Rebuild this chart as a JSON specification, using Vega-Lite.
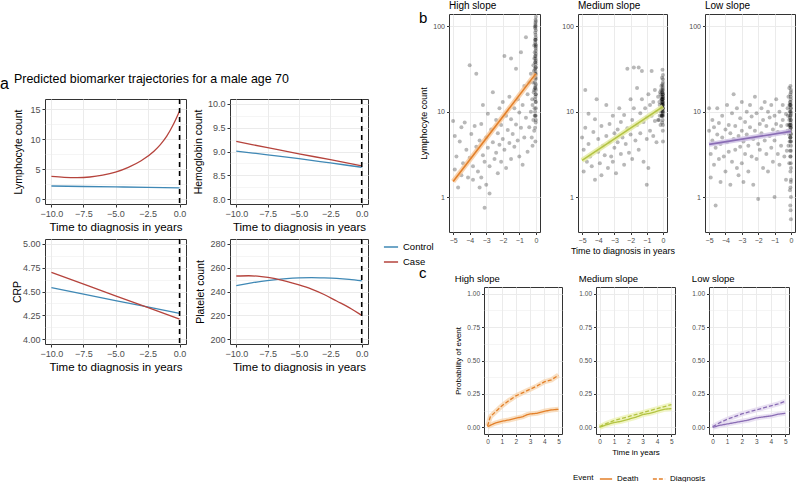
{
  "$schema": "https://vega.github.io/schema/vega-lite/v6.json",
  "padding": {"left": 0, "top": 0, "right": 0, "bottom": 0},
  "background": "white",
  "config": {
    "font": "Liberation Sans",
    "view": {"stroke": "#333333", "strokeWidth": 1},
    "axis": {"domain": false, "grid": true, "gridColor": "#ebebeb", "tickColor": "#333333", "tickSize": 3, "labelColor": "#4d4d4d", "titleColor": "#000000", "titleFontWeight": "normal", "labelPadding": 2, "labelFlush": false, "labelOverlap": false, "titlePadding": 4, "labelFont": "Liberation Sans", "titleFont": "Liberation Sans"},
    "title": {"fontWeight": "normal", "color": "#000000", "font": "Liberation Sans"},
    "legend": {"labelColor": "#000000", "titleFontWeight": "normal", "labelFont": "Liberation Sans", "titleFont": "Liberation Sans"}
  },
  "datasets": {
    "a": [
      {"m":"L","g":"Control","t":-10,"v":2.2},{"m":"L","g":"Control","t":-7.5,"v":2.12},{"m":"L","g":"Control","t":-5,"v":2.05},{"m":"L","g":"Control","t":-2.5,"v":1.97},{"m":"L","g":"Control","t":0,"v":1.9},
      {"m":"L","g":"Case","t":-10,"v":3.8},{"m":"L","g":"Case","t":-9,"v":3.65},{"m":"L","g":"Case","t":-8,"v":3.6},{"m":"L","g":"Case","t":-7,"v":3.7},{"m":"L","g":"Case","t":-6,"v":4.0},{"m":"L","g":"Case","t":-5,"v":4.5},{"m":"L","g":"Case","t":-4,"v":5.3},{"m":"L","g":"Case","t":-3,"v":6.4},{"m":"L","g":"Case","t":-2,"v":8.0},{"m":"L","g":"Case","t":-1.5,"v":9.1},{"m":"L","g":"Case","t":-1,"v":10.5},{"m":"L","g":"Case","t":-0.5,"v":12.4},{"m":"L","g":"Case","t":0,"v":14.7},
      {"m":"H","g":"Control","t":-10,"v":9.01},{"m":"H","g":"Control","t":-7.5,"v":8.93},{"m":"H","g":"Control","t":-5,"v":8.85},{"m":"H","g":"Control","t":-2.5,"v":8.76},{"m":"H","g":"Control","t":0,"v":8.67},
      {"m":"H","g":"Case","t":-10,"v":9.21},{"m":"H","g":"Case","t":-7.5,"v":9.08},{"m":"H","g":"Case","t":-5,"v":8.95},{"m":"H","g":"Case","t":-2.5,"v":8.83},{"m":"H","g":"Case","t":0,"v":8.70},
      {"m":"C","g":"Control","t":-10,"v":4.54},{"m":"C","g":"Control","t":-5,"v":4.405},{"m":"C","g":"Control","t":0,"v":4.27},
      {"m":"C","g":"Case","t":-10,"v":4.70},{"m":"C","g":"Case","t":-5,"v":4.455},{"m":"C","g":"Case","t":0,"v":4.21},
      {"m":"P","g":"Control","t":-10,"v":245},{"m":"P","g":"Control","t":-9,"v":246.8},{"m":"P","g":"Control","t":-8,"v":248.5},{"m":"P","g":"Control","t":-7,"v":249.8},{"m":"P","g":"Control","t":-6,"v":250.8},{"m":"P","g":"Control","t":-5,"v":251.4},{"m":"P","g":"Control","t":-4,"v":251.6},{"m":"P","g":"Control","t":-3,"v":251.4},{"m":"P","g":"Control","t":-2,"v":251},{"m":"P","g":"Control","t":-1,"v":250.2},{"m":"P","g":"Control","t":0,"v":249},
      {"m":"P","g":"Case","t":-10,"v":253},{"m":"P","g":"Case","t":-9,"v":253.2},{"m":"P","g":"Case","t":-8,"v":252.5},{"m":"P","g":"Case","t":-7,"v":251},{"m":"P","g":"Case","t":-6,"v":248.5},{"m":"P","g":"Case","t":-5,"v":245.5},{"m":"P","g":"Case","t":-4,"v":242},{"m":"P","g":"Case","t":-3,"v":237.5},{"m":"P","g":"Case","t":-2,"v":232},{"m":"P","g":"Case","t":-1,"v":226.5},{"m":"P","g":"Case","t":0,"v":220}
    ],
    "pts": [
      {"p":"H","t":-5.0,"v":7.8},{"p":"H","t":-4.9,"v":5.2},{"p":"H","t":-4.8,"v":3.0},{"p":"H","t":-4.9,"v":2.1},{"p":"H","t":-4.7,"v":1.3},{"p":"H","t":-4.6,"v":4.5},{"p":"H","t":-4.5,"v":6.6},{"p":"H","t":-4.5,"v":1.8},{"p":"H","t":-4.4,"v":2.5},{"p":"H","t":-4.3,"v":7.5},{"p":"H","t":-4.2,"v":3.6},{"p":"H","t":-4.1,"v":1.7},{"p":"H","t":-4.0,"v":2.9},{"p":"H","t":-4.0,"v":35},{"p":"H","t":-3.9,"v":5.5},{"p":"H","t":-3.8,"v":2.3},{"p":"H","t":-3.8,"v":1.6},{"p":"H","t":-3.7,"v":6.8},{"p":"H","t":-3.6,"v":3.9},{"p":"H","t":-3.6,"v":28},{"p":"H","t":-3.5,"v":2.0},{"p":"H","t":-3.4,"v":4.6},{"p":"H","t":-3.4,"v":1.3},{"p":"H","t":-3.3,"v":7.2},{"p":"H","t":-3.3,"v":1.7},{"p":"H","t":-3.2,"v":12},{"p":"H","t":-3.2,"v":3.1},{"p":"H","t":-3.1,"v":2.6},{"p":"H","t":-3.1,"v":0.75},{"p":"H","t":-3.0,"v":5.0},{"p":"H","t":-3.0,"v":1.4},{"p":"H","t":-2.9,"v":9.5},{"p":"H","t":-2.9,"v":3.8},{"p":"H","t":-2.8,"v":2.3},{"p":"H","t":-2.8,"v":1.1},{"p":"H","t":-2.7,"v":6.2},{"p":"H","t":-2.6,"v":17},{"p":"H","t":-2.6,"v":4.4},{"p":"H","t":-2.5,"v":2.8},{"p":"H","t":-2.4,"v":8.0},{"p":"H","t":-2.4,"v":3.3},{"p":"H","t":-2.3,"v":5.6},{"p":"H","t":-2.3,"v":1.9},{"p":"H","t":-2.2,"v":11},{"p":"H","t":-2.2,"v":4.1},{"p":"H","t":-2.1,"v":7.0},{"p":"H","t":-2.1,"v":2.6},{"p":"H","t":-2.0,"v":13},{"p":"H","t":-2.0,"v":4.8},{"p":"H","t":-1.9,"v":45},{"p":"H","t":-1.9,"v":3.6},{"p":"H","t":-1.8,"v":9.0},{"p":"H","t":-1.8,"v":2.2},{"p":"H","t":-1.7,"v":6.1},{"p":"H","t":-1.6,"v":15},{"p":"H","t":-1.6,"v":4.3},{"p":"H","t":-1.5,"v":42},{"p":"H","t":-1.5,"v":8.2},{"p":"H","t":-1.5,"v":2.8},{"p":"H","t":-1.4,"v":5.5},{"p":"H","t":-1.3,"v":11},{"p":"H","t":-1.3,"v":3.9},{"p":"H","t":-1.2,"v":32},{"p":"H","t":-1.2,"v":7.1},{"p":"H","t":-1.1,"v":14},{"p":"H","t":-1.1,"v":4.6},{"p":"H","t":-1.0,"v":9.8},{"p":"H","t":-1.0,"v":3.0},{"p":"H","t":-0.9,"v":50},{"p":"H","t":-0.9,"v":6.5},{"p":"H","t":-0.8,"v":12},{"p":"H","t":-0.8,"v":2.4},{"p":"H","t":-0.7,"v":20},{"p":"H","t":-0.7,"v":5.0},{"p":"H","t":-0.6,"v":8.5},{"p":"H","t":-0.6,"v":75},{"p":"H","t":-0.5,"v":16},{"p":"H","t":-0.5,"v":3.4},{"p":"H","t":-0.4,"v":22},{"p":"H","t":-0.4,"v":6.6},{"p":"H","t":-0.3,"v":10},{"p":"H","t":-0.3,"v":28},
      {"p":"H","t":-0.25,"v":5},{"p":"H","t":-0.22,"v":14},{"p":"H","t":-0.2,"v":4},{"p":"H","t":-0.2,"v":12},{"p":"H","t":-0.18,"v":22},{"p":"H","t":-0.15,"v":8},{"p":"H","t":-0.15,"v":35},{"p":"H","t":-0.13,"v":17},{"p":"H","t":-0.12,"v":30},{"p":"H","t":-0.1,"v":60},{"p":"H","t":-0.1,"v":18},{"p":"H","t":-0.1,"v":6},{"p":"H","t":-0.09,"v":42},{"p":"H","t":-0.08,"v":25},{"p":"H","t":-0.08,"v":11},{"p":"H","t":-0.07,"v":50},{"p":"H","t":-0.07,"v":9},{"p":"H","t":-0.06,"v":100},{"p":"H","t":-0.06,"v":22},{"p":"H","t":-0.05,"v":14},{"p":"H","t":-0.05,"v":45},{"p":"H","t":-0.05,"v":70},{"p":"H","t":-0.04,"v":9},{"p":"H","t":-0.04,"v":65},{"p":"H","t":-0.04,"v":28},{"p":"H","t":-0.03,"v":70},{"p":"H","t":-0.03,"v":20},{"p":"H","t":-0.03,"v":110},{"p":"H","t":-0.03,"v":38},{"p":"H","t":-0.02,"v":30},{"p":"H","t":-0.02,"v":120},{"p":"H","t":-0.02,"v":80},{"p":"H","t":-0.02,"v":13},{"p":"H","t":-0.01,"v":55},{"p":"H","t":-0.01,"v":16},{"p":"H","t":-0.01,"v":7.5},{"p":"H","t":-0.01,"v":33},{"p":"H","t":0,"v":40},{"p":"H","t":0,"v":90},{"p":"H","t":0,"v":11},{"p":"H","t":0,"v":25},{"p":"H","t":0,"v":18},{"p":"H","t":0,"v":60},{"p":"H","t":0,"v":130},{"p":"H","t":0,"v":8},{"p":"H","t":0,"v":48},{"p":"H","t":-0.01,"v":75},{"p":"H","t":-0.02,"v":19},{"p":"H","t":-0.04,"v":95},{"p":"H","t":-0.06,"v":32},
      {"p":"H","t":-0.05,"v":10},{"p":"H","t":-0.03,"v":15},{"p":"H","t":-0.02,"v":24},{"p":"H","t":-0.01,"v":36},{"p":"H","t":0,"v":52},{"p":"H","t":0,"v":70},{"p":"H","t":-0.04,"v":85},{"p":"H","t":-0.02,"v":105},{"p":"H","t":-0.01,"v":9},{"p":"H","t":0,"v":13},{"p":"H","t":-0.06,"v":19},{"p":"H","t":-0.03,"v":27},{"p":"H","t":-0.02,"v":42},{"p":"H","t":-0.01,"v":58},{"p":"H","t":0,"v":33},{"p":"H","t":0,"v":21},{"p":"H","t":-0.05,"v":6.5},{"p":"H","t":-0.03,"v":4.5},{"p":"H","t":-0.01,"v":100},{"p":"H","t":0,"v":115},{"p":"H","t":-0.02,"v":62},{"p":"H","t":-0.04,"v":38},{"p":"H","t":-0.01,"v":45},{"p":"H","t":0,"v":28},{"p":"H","t":0,"v":16},
      {"p":"M","t":-5.0,"v":5.0},{"p":"M","t":-4.9,"v":2.0},{"p":"M","t":-4.9,"v":3.6},{"p":"M","t":-4.8,"v":18},{"p":"M","t":-4.8,"v":6.5},{"p":"M","t":-4.7,"v":2.6},{"p":"M","t":-4.6,"v":4.2},{"p":"M","t":-4.6,"v":9.5},{"p":"M","t":-4.5,"v":3.0},{"p":"M","t":-4.4,"v":2.3},{"p":"M","t":-4.3,"v":5.8},{"p":"M","t":-4.2,"v":1.6},{"p":"M","t":-4.2,"v":8.2},{"p":"M","t":-4.1,"v":14},{"p":"M","t":-4.0,"v":3.4},{"p":"M","t":-4.0,"v":4.8},{"p":"M","t":-3.9,"v":2.5},{"p":"M","t":-3.8,"v":6.8},{"p":"M","t":-3.8,"v":1.8},{"p":"M","t":-3.7,"v":4.0},{"p":"M","t":-3.6,"v":3.1},{"p":"M","t":-3.5,"v":12},{"p":"M","t":-3.5,"v":5.2},{"p":"M","t":-3.4,"v":2.2},{"p":"M","t":-3.3,"v":7.2},{"p":"M","t":-3.3,"v":4.4},{"p":"M","t":-3.2,"v":3.0},{"p":"M","t":-3.1,"v":9.0},{"p":"M","t":-3.1,"v":2.6},{"p":"M","t":-3.0,"v":5.6},{"p":"M","t":-3.0,"v":3.8},{"p":"M","t":-2.9,"v":1.9},{"p":"M","t":-2.8,"v":6.2},{"p":"M","t":-2.8,"v":4.4},{"p":"M","t":-2.7,"v":11},{"p":"M","t":-2.6,"v":3.2},{"p":"M","t":-2.6,"v":7.6},{"p":"M","t":-2.5,"v":5.0},{"p":"M","t":-2.4,"v":2.4},{"p":"M","t":-2.4,"v":9.2},{"p":"M","t":-2.3,"v":4.2},{"p":"M","t":-2.2,"v":32},{"p":"M","t":-2.2,"v":6.4},{"p":"M","t":-2.1,"v":3.3},{"p":"M","t":-2.0,"v":14},{"p":"M","t":-2.0,"v":5.4},{"p":"M","t":-1.9,"v":8.0},{"p":"M","t":-1.9,"v":2.8},{"p":"M","t":-1.8,"v":33},{"p":"M","t":-1.8,"v":11},{"p":"M","t":-1.7,"v":4.6},{"p":"M","t":-1.6,"v":19},{"p":"M","t":-1.6,"v":7.0},{"p":"M","t":-1.5,"v":33},{"p":"M","t":-1.5,"v":3.6},{"p":"M","t":-1.4,"v":9.6},{"p":"M","t":-1.4,"v":5.6},{"p":"M","t":-1.3,"v":30},{"p":"M","t":-1.3,"v":14},{"p":"M","t":-1.2,"v":7.6},{"p":"M","t":-1.2,"v":2.6},{"p":"M","t":-1.1,"v":11},{"p":"M","t":-1.0,"v":1.4},{"p":"M","t":-1.0,"v":4.8},{"p":"M","t":-1.0,"v":8.6},{"p":"M","t":-0.9,"v":16},{"p":"M","t":-0.9,"v":2.2},{"p":"M","t":-0.8,"v":6.0},{"p":"M","t":-0.8,"v":12},{"p":"M","t":-0.7,"v":30},{"p":"M","t":-0.7,"v":9.0},{"p":"M","t":-0.6,"v":5.2},{"p":"M","t":-0.6,"v":13},{"p":"M","t":-0.5,"v":18},{"p":"M","t":-0.5,"v":7.8},{"p":"M","t":-0.4,"v":10},{"p":"M","t":-0.4,"v":4.4},{"p":"M","t":-0.3,"v":15},{"p":"M","t":-0.3,"v":8.0},
      {"p":"M","t":-0.25,"v":8},{"p":"M","t":-0.22,"v":13},{"p":"M","t":-0.2,"v":9},{"p":"M","t":-0.2,"v":12},{"p":"M","t":-0.18,"v":17},{"p":"M","t":-0.15,"v":16},{"p":"M","t":-0.15,"v":7},{"p":"M","t":-0.13,"v":10},{"p":"M","t":-0.12,"v":18},{"p":"M","t":-0.1,"v":11},{"p":"M","t":-0.1,"v":20},{"p":"M","t":-0.1,"v":14},{"p":"M","t":-0.09,"v":9},{"p":"M","t":-0.08,"v":9},{"p":"M","t":-0.08,"v":15},{"p":"M","t":-0.07,"v":12},{"p":"M","t":-0.06,"v":25},{"p":"M","t":-0.06,"v":9},{"p":"M","t":-0.05,"v":13},{"p":"M","t":-0.05,"v":17},{"p":"M","t":-0.05,"v":11},{"p":"M","t":-0.04,"v":10},{"p":"M","t":-0.04,"v":14},{"p":"M","t":-0.03,"v":12},{"p":"M","t":-0.03,"v":31},{"p":"M","t":-0.03,"v":16},{"p":"M","t":-0.02,"v":15},{"p":"M","t":-0.02,"v":8},{"p":"M","t":-0.02,"v":11},{"p":"M","t":-0.01,"v":11},{"p":"M","t":-0.01,"v":19},{"p":"M","t":-0.01,"v":14},{"p":"M","t":-0.01,"v":9.5},{"p":"M","t":0,"v":13},{"p":"M","t":0,"v":10},{"p":"M","t":0,"v":22},{"p":"M","t":0,"v":4.5},{"p":"M","t":0,"v":12},{"p":"M","t":0,"v":16},{"p":"M","t":0,"v":27},{"p":"M","t":0,"v":7},{"p":"M","t":-0.02,"v":12.5},{"p":"M","t":-0.03,"v":10.5},{"p":"M","t":-0.06,"v":14},{"p":"M","t":-0.04,"v":18},
      {"p":"M","t":-0.05,"v":12},{"p":"M","t":-0.03,"v":14},{"p":"M","t":-0.02,"v":17},{"p":"M","t":-0.01,"v":20},{"p":"M","t":0,"v":9},{"p":"M","t":0,"v":11},{"p":"M","t":-0.04,"v":13},{"p":"M","t":-0.02,"v":10},{"p":"M","t":-0.01,"v":12},{"p":"M","t":0,"v":15},{"p":"M","t":-0.06,"v":11},{"p":"M","t":-0.03,"v":9},{"p":"M","t":-0.02,"v":13},{"p":"M","t":-0.01,"v":16},{"p":"M","t":0,"v":18},{"p":"M","t":0,"v":24},{"p":"M","t":-0.05,"v":7.5},{"p":"M","t":-0.03,"v":21},{"p":"M","t":-0.01,"v":6},{"p":"M","t":0,"v":14.5},
      {"p":"L","t":-5.0,"v":11},{"p":"L","t":-5.0,"v":6.0},{"p":"L","t":-4.9,"v":1.7},{"p":"L","t":-4.9,"v":3.2},{"p":"L","t":-4.8,"v":8.0},{"p":"L","t":-4.8,"v":4.6},{"p":"L","t":-4.7,"v":2.4},{"p":"L","t":-4.7,"v":6.6},{"p":"L","t":-4.6,"v":0.8},{"p":"L","t":-4.6,"v":3.8},{"p":"L","t":-4.5,"v":5.4},{"p":"L","t":-4.5,"v":11},{"p":"L","t":-4.4,"v":2.8},{"p":"L","t":-4.4,"v":7.4},{"p":"L","t":-4.3,"v":4.2},{"p":"L","t":-4.3,"v":1.5},{"p":"L","t":-4.2,"v":9.0},{"p":"L","t":-4.2,"v":5.0},{"p":"L","t":-4.1,"v":3.0},{"p":"L","t":-4.0,"v":6.2},{"p":"L","t":-4.0,"v":2.0},{"p":"L","t":-3.9,"v":12},{"p":"L","t":-3.9,"v":4.4},{"p":"L","t":-3.8,"v":7.0},{"p":"L","t":-3.8,"v":3.4},{"p":"L","t":-3.7,"v":1.4},{"p":"L","t":-3.7,"v":5.6},{"p":"L","t":-3.6,"v":9.6},{"p":"L","t":-3.6,"v":2.6},{"p":"L","t":-3.5,"v":16},{"p":"L","t":-3.5,"v":4.8},{"p":"L","t":-3.4,"v":3.6},{"p":"L","t":-3.4,"v":6.8},{"p":"L","t":-3.3,"v":2.2},{"p":"L","t":-3.3,"v":11},{"p":"L","t":-3.2,"v":5.2},{"p":"L","t":-3.2,"v":1.8},{"p":"L","t":-3.1,"v":8.4},{"p":"L","t":-3.1,"v":3.9},{"p":"L","t":-3.0,"v":13},{"p":"L","t":-3.0,"v":6.0},{"p":"L","t":-3.0,"v":2.5},{"p":"L","t":-2.9,"v":4.5},{"p":"L","t":-2.9,"v":1.5},{"p":"L","t":-2.8,"v":7.6},{"p":"L","t":-2.8,"v":3.2},{"p":"L","t":-2.7,"v":10},{"p":"L","t":-2.7,"v":5.4},{"p":"L","t":-2.6,"v":2.0},{"p":"L","t":-2.6,"v":4.0},{"p":"L","t":-2.5,"v":12},{"p":"L","t":-2.5,"v":6.6},{"p":"L","t":-2.4,"v":3.0},{"p":"L","t":-2.4,"v":8.8},{"p":"L","t":-2.3,"v":4.8},{"p":"L","t":-2.3,"v":1.4},{"p":"L","t":-2.2,"v":15},{"p":"L","t":-2.2,"v":6.0},{"p":"L","t":-2.1,"v":2.8},{"p":"L","t":-2.1,"v":9.6},{"p":"L","t":-2.0,"v":4.2},{"p":"L","t":-2.0,"v":0.95},{"p":"L","t":-1.9,"v":7.2},{"p":"L","t":-1.9,"v":3.6},{"p":"L","t":-1.8,"v":11},{"p":"L","t":-1.8,"v":5.6},{"p":"L","t":-1.7,"v":2.2},{"p":"L","t":-1.7,"v":8.0},{"p":"L","t":-1.6,"v":4.6},{"p":"L","t":-1.6,"v":13},{"p":"L","t":-1.5,"v":3.2},{"p":"L","t":-1.5,"v":6.8},{"p":"L","t":-1.4,"v":10},{"p":"L","t":-1.4,"v":2.0},{"p":"L","t":-1.3,"v":5.2},{"p":"L","t":-1.3,"v":8.6},{"p":"L","t":-1.2,"v":3.8},{"p":"L","t":-1.2,"v":12},{"p":"L","t":-1.1,"v":6.2},{"p":"L","t":-1.1,"v":2.6},{"p":"L","t":-1.0,"v":1.0},{"p":"L","t":-1.0,"v":9.0},{"p":"L","t":-1.0,"v":4.6},{"p":"L","t":-0.9,"v":7.2},{"p":"L","t":-0.9,"v":14},{"p":"L","t":-0.8,"v":3.2},{"p":"L","t":-0.8,"v":5.8},{"p":"L","t":-0.7,"v":10},{"p":"L","t":-0.7,"v":2.4},{"p":"L","t":-0.6,"v":6.8},{"p":"L","t":-0.6,"v":4.0},{"p":"L","t":-0.5,"v":12},{"p":"L","t":-0.5,"v":8.0},{"p":"L","t":-0.4,"v":3.0},{"p":"L","t":-0.4,"v":5.6},{"p":"L","t":-0.3,"v":9.4},{"p":"L","t":-0.3,"v":1.6},
      {"p":"L","t":-0.25,"v":3.5},{"p":"L","t":-0.22,"v":7},{"p":"L","t":-0.2,"v":6},{"p":"L","t":-0.2,"v":11},{"p":"L","t":-0.18,"v":9},{"p":"L","t":-0.15,"v":4},{"p":"L","t":-0.15,"v":15},{"p":"L","t":-0.13,"v":5.5},{"p":"L","t":-0.12,"v":7},{"p":"L","t":-0.1,"v":8},{"p":"L","t":-0.1,"v":2.5},{"p":"L","t":-0.1,"v":19},{"p":"L","t":-0.09,"v":12},{"p":"L","t":-0.08,"v":6},{"p":"L","t":-0.08,"v":4.5},{"p":"L","t":-0.07,"v":10},{"p":"L","t":-0.06,"v":13},{"p":"L","t":-0.06,"v":1.2},{"p":"L","t":-0.05,"v":3.5},{"p":"L","t":-0.05,"v":9},{"p":"L","t":-0.05,"v":6.5},{"p":"L","t":-0.04,"v":0.8},{"p":"L","t":-0.04,"v":12},{"p":"L","t":-0.04,"v":5},{"p":"L","t":-0.03,"v":7},{"p":"L","t":-0.03,"v":20},{"p":"L","t":-0.03,"v":16},{"p":"L","t":-0.02,"v":5},{"p":"L","t":-0.02,"v":11},{"p":"L","t":-0.02,"v":3},{"p":"L","t":-0.02,"v":8},{"p":"L","t":-0.01,"v":1.5},{"p":"L","t":-0.01,"v":14},{"p":"L","t":-0.01,"v":6.5},{"p":"L","t":-0.01,"v":10},{"p":"L","t":0,"v":0.55},{"p":"L","t":0,"v":4.5},{"p":"L","t":0,"v":9.5},{"p":"L","t":0,"v":17},{"p":"L","t":0,"v":2.2},{"p":"L","t":0,"v":7},{"p":"L","t":0,"v":12},{"p":"L","t":0,"v":3.5},{"p":"L","t":0,"v":1.0},{"p":"L","t":0,"v":5.5},{"p":"L","t":-0.02,"v":0.7},{"p":"L","t":-0.03,"v":2.0},{"p":"L","t":-0.06,"v":8.5},
      {"p":"L","t":-0.05,"v":5},{"p":"L","t":-0.03,"v":6},{"p":"L","t":-0.02,"v":7.5},{"p":"L","t":-0.01,"v":9},{"p":"L","t":0,"v":11},{"p":"L","t":0,"v":4},{"p":"L","t":-0.04,"v":3},{"p":"L","t":-0.02,"v":13},{"p":"L","t":-0.01,"v":2.5},{"p":"L","t":0,"v":6.5},{"p":"L","t":-0.06,"v":7},{"p":"L","t":-0.03,"v":10},{"p":"L","t":-0.02,"v":4.5},{"p":"L","t":-0.01,"v":15},{"p":"L","t":0,"v":8},{"p":"L","t":0,"v":1.6},{"p":"L","t":-0.05,"v":12},{"p":"L","t":-0.03,"v":1.3},{"p":"L","t":-0.01,"v":5.5},{"p":"L","t":0,"v":18}
    ],
    "bfit": [
      {"p":"H","t":-5,"v":1.52},{"p":"H","t":0,"v":28},
      {"p":"M","t":-5,"v":2.7},{"p":"M","t":0,"v":11.5},
      {"p":"L","t":-5,"v":4.15},{"p":"L","t":0,"v":5.9}
    ],
    "cinc": [
      {"p":"H","e":"Death","t":0,"v":0.005},{"p":"H","e":"Death","t":0.5,"v":0.03},{"p":"H","e":"Death","t":1,"v":0.045},{"p":"H","e":"Death","t":1.5,"v":0.055},{"p":"H","e":"Death","t":2,"v":0.068},{"p":"H","e":"Death","t":2.5,"v":0.08},{"p":"H","e":"Death","t":2.8,"v":0.095},{"p":"H","e":"Death","t":3,"v":0.1},{"p":"H","e":"Death","t":3.5,"v":0.105},{"p":"H","e":"Death","t":4,"v":0.12},{"p":"H","e":"Death","t":4.5,"v":0.13},{"p":"H","e":"Death","t":5,"v":0.135},
      {"p":"H","e":"Diagnosis","t":0,"v":0.01},{"p":"H","e":"Diagnosis","t":0.2,"v":0.08},{"p":"H","e":"Diagnosis","t":0.5,"v":0.11},{"p":"H","e":"Diagnosis","t":1,"v":0.16},{"p":"H","e":"Diagnosis","t":1.5,"v":0.2},{"p":"H","e":"Diagnosis","t":2,"v":0.235},{"p":"H","e":"Diagnosis","t":2.5,"v":0.26},{"p":"H","e":"Diagnosis","t":3,"v":0.285},{"p":"H","e":"Diagnosis","t":3.5,"v":0.31},{"p":"H","e":"Diagnosis","t":4,"v":0.34},{"p":"H","e":"Diagnosis","t":4.5,"v":0.355},{"p":"H","e":"Diagnosis","t":5,"v":0.39},
      {"p":"M","e":"Death","t":0,"v":0.0},{"p":"M","e":"Death","t":0.5,"v":0.02},{"p":"M","e":"Death","t":1,"v":0.035},{"p":"M","e":"Death","t":1.5,"v":0.045},{"p":"M","e":"Death","t":2,"v":0.06},{"p":"M","e":"Death","t":2.5,"v":0.075},{"p":"M","e":"Death","t":3,"v":0.095},{"p":"M","e":"Death","t":3.5,"v":0.105},{"p":"M","e":"Death","t":4,"v":0.12},{"p":"M","e":"Death","t":4.5,"v":0.135},{"p":"M","e":"Death","t":5,"v":0.14},
      {"p":"M","e":"Diagnosis","t":0,"v":0.005},{"p":"M","e":"Diagnosis","t":0.5,"v":0.03},{"p":"M","e":"Diagnosis","t":1,"v":0.05},{"p":"M","e":"Diagnosis","t":1.5,"v":0.065},{"p":"M","e":"Diagnosis","t":2,"v":0.08},{"p":"M","e":"Diagnosis","t":2.5,"v":0.095},{"p":"M","e":"Diagnosis","t":3,"v":0.11},{"p":"M","e":"Diagnosis","t":3.5,"v":0.125},{"p":"M","e":"Diagnosis","t":4,"v":0.14},{"p":"M","e":"Diagnosis","t":4.5,"v":0.155},{"p":"M","e":"Diagnosis","t":5,"v":0.17},
      {"p":"L","e":"Death","t":0,"v":0.0},{"p":"L","e":"Death","t":0.5,"v":0.015},{"p":"L","e":"Death","t":1,"v":0.025},{"p":"L","e":"Death","t":1.5,"v":0.035},{"p":"L","e":"Death","t":2,"v":0.045},{"p":"L","e":"Death","t":2.5,"v":0.055},{"p":"L","e":"Death","t":3,"v":0.07},{"p":"L","e":"Death","t":3.5,"v":0.078},{"p":"L","e":"Death","t":4,"v":0.085},{"p":"L","e":"Death","t":4.5,"v":0.098},{"p":"L","e":"Death","t":5,"v":0.105},
      {"p":"L","e":"Diagnosis","t":0,"v":0.005},{"p":"L","e":"Diagnosis","t":0.5,"v":0.035},{"p":"L","e":"Diagnosis","t":1,"v":0.06},{"p":"L","e":"Diagnosis","t":1.5,"v":0.08},{"p":"L","e":"Diagnosis","t":2,"v":0.1},{"p":"L","e":"Diagnosis","t":2.5,"v":0.115},{"p":"L","e":"Diagnosis","t":3,"v":0.13},{"p":"L","e":"Diagnosis","t":3.5,"v":0.145},{"p":"L","e":"Diagnosis","t":4,"v":0.16},{"p":"L","e":"Diagnosis","t":4.5,"v":0.175},{"p":"L","e":"Diagnosis","t":5,"v":0.195}
    ],
    "zero": [{"t": 0}]
  },
  "spacing": 50,
  "hconcat": [
    {
      "spacing": 4,
      "title": {"text": "a", "orient": "top", "anchor": "start", "frame": "group", "fontSize": 16, "offset": 6, "baseline": "alphabetic", "dx": -45, "dy": 97},
      "vconcat": [
        {
          "width": 323, "height": 79,
          "data": {"values": [{"t": 0}]},
          "mark": {"type": "text", "text": ""},
          "view": {"stroke": null},
          "title": {"text": "Predicted biomarker trajectories for a male age 70", "orient": "top", "anchor": "start", "frame": "group", "fontSize": 12.4, "offset": 7, "baseline": "alphabetic", "dy": 88, "dx": -31}
        },
        {
          "spacing": 44, "bounds": "flush",
          "hconcat": [
            {
              "width": 141, "height": 105,
              "resolve": {"axis": {"x": "independent"}},
              "layer": [
                {
                  "data": {"name": "a"}, "transform": [{"filter": "datum.m === 'L'"}],
                  "mark": {"type": "line", "strokeWidth": 1.3, "interpolate": "monotone"},
                  "encoding": {
                    "x": {"field": "t", "type": "quantitative", "scale": {"domain": [-10.5, 0.5], "nice": false, "zero": false},
                      "axis": {"title": "Time to diagnosis in years", "values": [-10, -7.5, -5, -2.5, 0], "format": ".1f", "labelFontSize": 9, "titleFontSize": 11.5, "titlePadding": 3}},
                    "y": {"field": "v", "type": "quantitative", "scale": {"domain": [-0.8, 16.7], "nice": false, "zero": false},
                      "axis": {"title": "Lymphocyte count", "titlePadding": 6, "values": [0,2.5,5,7.5,10,12.5,15], "format": "d", "labelExpr": "datum.value % 5 === 0 ? datum.label : ''", "tickOpacity": {"condition": {"test": "datum.value % 5 !== 0", "value": 0}, "value": 1}, "gridWidth": {"condition": {"test": "datum.value % 5 !== 0", "value": 0.5}, "value": 1}, "labelFontSize": 9, "titleFontSize": 10.5}},
                    "color": {"field": "g", "type": "nominal", "scale": {"domain": ["Control", "Case"], "range": ["#3f88b5", "#b5433c"]},
                      "legend": {"orient": "none", "legendX": 338, "legendY": 225, "title": null, "symbolType": "stroke", "symbolStrokeWidth": 1.5, "symbolSize": 200, "labelFontSize": 9.5, "rowPadding": 2}}
                  }
                },
                {"data": {"name": "zero"}, "mark": {"type": "rule", "strokeDash": [5, 4], "strokeWidth": 1.6, "color": "#000000"},
                  "encoding": {"x": {"field": "t", "type": "quantitative", "axis": {"orient": "top", "values": [-8.75, -6.25, -3.75, -1.25], "labels": false, "ticks": false, "title": null, "gridWidth": 0.5}}}}
              ]
            },
            {
              "width": 138, "height": 105,
              "resolve": {"axis": {"x": "independent"}},
              "layer": [
                {
                  "data": {"name": "a"}, "transform": [{"filter": "datum.m === 'H'"}],
                  "mark": {"type": "line", "strokeWidth": 1.3, "interpolate": "monotone"},
                  "encoding": {
                    "x": {"field": "t", "type": "quantitative", "scale": {"domain": [-10.5, 0.5], "nice": false, "zero": false},
                      "axis": {"title": "Time to diagnosis in years", "values": [-10, -7.5, -5, -2.5, 0], "format": ".1f", "labelFontSize": 9, "titleFontSize": 11.5, "titlePadding": 3}},
                    "y": {"field": "v", "type": "quantitative", "scale": {"domain": [7.9, 10.1], "nice": false, "zero": false},
                      "axis": {"title": "Hemoglobin count", "values": [8,8.25,8.5,8.75,9,9.25,9.5,9.75,10], "format": ".1f", "labelExpr": "datum.value % 0.5 === 0 ? datum.label : ''", "tickOpacity": {"condition": {"test": "datum.value % 0.5 !== 0", "value": 0}, "value": 1}, "gridWidth": {"condition": {"test": "datum.value % 0.5 !== 0", "value": 0.5}, "value": 1}, "labelFontSize": 9, "titleFontSize": 10.5}},
                    "color": {"field": "g", "type": "nominal"}
                  }
                },
                {"data": {"name": "zero"}, "mark": {"type": "rule", "strokeDash": [5, 4], "strokeWidth": 1.6, "color": "#000000"},
                  "encoding": {"x": {"field": "t", "type": "quantitative", "axis": {"orient": "top", "values": [-8.75, -6.25, -3.75, -1.25], "labels": false, "ticks": false, "title": null, "gridWidth": 0.5}}}}
              ]
            }
          ]
        },
        {
          "spacing": 44, "bounds": "flush",
          "hconcat": [
            {
              "width": 141, "height": 105,
              "resolve": {"axis": {"x": "independent"}},
              "layer": [
                {
                  "data": {"name": "a"}, "transform": [{"filter": "datum.m === 'C'"}],
                  "mark": {"type": "line", "strokeWidth": 1.3, "interpolate": "monotone"},
                  "encoding": {
                    "x": {"field": "t", "type": "quantitative", "scale": {"domain": [-10.5, 0.5], "nice": false, "zero": false},
                      "axis": {"title": "Time to diagnosis in years", "values": [-10, -7.5, -5, -2.5, 0], "format": ".1f", "labelFontSize": 9, "titleFontSize": 11.5, "titlePadding": 3}},
                    "y": {"field": "v", "type": "quantitative", "scale": {"domain": [3.95, 5.05], "nice": false, "zero": false},
                      "axis": {"title": "CRP", "titlePadding": 0, "values": [4,4.125,4.25,4.375,4.5,4.625,4.75,4.875,5], "format": ".2f", "labelExpr": "datum.value % 0.25 === 0 ? datum.label : ''", "tickOpacity": {"condition": {"test": "datum.value % 0.25 !== 0", "value": 0}, "value": 1}, "gridWidth": {"condition": {"test": "datum.value % 0.25 !== 0", "value": 0.5}, "value": 1}, "labelFontSize": 9, "titleFontSize": 10.5}},
                    "color": {"field": "g", "type": "nominal"}
                  }
                },
                {"data": {"name": "zero"}, "mark": {"type": "rule", "strokeDash": [5, 4], "strokeWidth": 1.6, "color": "#000000"},
                  "encoding": {"x": {"field": "t", "type": "quantitative", "axis": {"orient": "top", "values": [-8.75, -6.25, -3.75, -1.25], "labels": false, "ticks": false, "title": null, "gridWidth": 0.5}}}}
              ]
            },
            {
              "width": 138, "height": 105,
              "resolve": {"axis": {"x": "independent"}},
              "layer": [
                {
                  "data": {"name": "a"}, "transform": [{"filter": "datum.m === 'P'"}],
                  "mark": {"type": "line", "strokeWidth": 1.3, "interpolate": "monotone"},
                  "encoding": {
                    "x": {"field": "t", "type": "quantitative", "scale": {"domain": [-10.5, 0.5], "nice": false, "zero": false},
                      "axis": {"title": "Time to diagnosis in years", "values": [-10, -7.5, -5, -2.5, 0], "format": ".1f", "labelFontSize": 9, "titleFontSize": 11.5, "titlePadding": 3}},
                    "y": {"field": "v", "type": "quantitative", "scale": {"domain": [196, 284], "nice": false, "zero": false},
                      "axis": {"title": "Platelet count", "values": [200,210,220,230,240,250,260,270,280], "format": "d", "labelExpr": "datum.value % 20 === 0 ? datum.label : ''", "tickOpacity": {"condition": {"test": "datum.value % 20 !== 0", "value": 0}, "value": 1}, "gridWidth": {"condition": {"test": "datum.value % 20 !== 0", "value": 0.5}, "value": 1}, "labelFontSize": 9, "titleFontSize": 10.5}},
                    "color": {"field": "g", "type": "nominal"}
                  }
                },
                {"data": {"name": "zero"}, "mark": {"type": "rule", "strokeDash": [5, 4], "strokeWidth": 1.6, "color": "#000000"},
                  "encoding": {"x": {"field": "t", "type": "quantitative", "axis": {"orient": "top", "values": [-8.75, -6.25, -3.75, -1.25], "labels": false, "ticks": false, "title": null, "gridWidth": 0.5}}}}
              ]
            }
          ]
        }
      ]
    },
    {
      "spacing": 10,
      "vconcat": [
        {
          "spacing": 38, "bounds": "flush",
          "title": {"text": "b", "orient": "top", "anchor": "start", "frame": "group", "fontSize": 15, "offset": 0, "baseline": "alphabetic", "dx": -30, "dy": 37},
          "hconcat": [
            {
              "width": 91, "height": 218,
              "title": {"text": "High slope", "anchor": "start", "frame": "group", "fontSize": 10, "offset": 3},
              "encoding": {
                "x": {"field": "t", "type": "quantitative", "scale": {"domain": [-5.25, 0.25], "nice": false, "zero": false},
                  "axis": {"title": null, "values": [-5,-4.5,-4,-3.5,-3,-2.5,-2,-1.5,-1,-0.5,0], "format": "d", "labelExpr": "datum.value % 1 === 0 ? datum.label : ''", "tickOpacity": {"condition": {"test": "datum.value % 1 !== 0", "value": 0}, "value": 1}, "gridWidth": {"condition": {"test": "datum.value % 1 !== 0", "value": 0.5}, "value": 1}, "labelFontSize": 7, "tickSize": 2.5}},
                "y": {"field": "v", "type": "quantitative", "scale": {"type": "log", "domain": [0.39, 140], "nice": false},
                  "axis": {"title": "Lymphocyte count", "values": [1, 10, 100], "format": "d", "labelFontSize": 7, "titleFontSize": 9, "tickSize": 2.5}}
              },
              "layer": [
                {"data": {"name": "pts"}, "transform": [{"filter": "datum.p === 'H'"}], "mark": {"type": "circle", "size": 16, "color": "#000000", "opacity": 0.28}},
                {"data": {"name": "bfit"}, "transform": [{"filter": "datum.p === 'H'"}], "mark": {"type": "line", "color": "#f5c08d", "strokeWidth": 5, "opacity": 0.7}},
                {"data": {"name": "bfit"}, "transform": [{"filter": "datum.p === 'H'"}], "mark": {"type": "line", "color": "#e3802a", "strokeWidth": 1.6}}
              ]
            },
            {
              "width": 89, "height": 218,
              "title": {"text": "Medium slope", "anchor": "start", "frame": "group", "fontSize": 10, "offset": 3},
              "encoding": {
                "x": {"field": "t", "type": "quantitative", "scale": {"domain": [-5.25, 0.25], "nice": false, "zero": false},
                  "axis": {"title": "Time to diagnosis in years", "titleFontSize": 9, "titlePadding": 3, "values": [-5,-4.5,-4,-3.5,-3,-2.5,-2,-1.5,-1,-0.5,0], "format": "d", "labelExpr": "datum.value % 1 === 0 ? datum.label : ''", "tickOpacity": {"condition": {"test": "datum.value % 1 !== 0", "value": 0}, "value": 1}, "gridWidth": {"condition": {"test": "datum.value % 1 !== 0", "value": 0.5}, "value": 1}, "labelFontSize": 7, "tickSize": 2.5}},
                "y": {"field": "v", "type": "quantitative", "scale": {"type": "log", "domain": [0.39, 140], "nice": false},
                  "axis": {"title": null, "values": [1, 10, 100], "format": "d", "labelFontSize": 7, "tickSize": 2.5}}
              },
              "layer": [
                {"data": {"name": "pts"}, "transform": [{"filter": "datum.p === 'M'"}], "mark": {"type": "circle", "size": 16, "color": "#000000", "opacity": 0.28}},
                {"data": {"name": "bfit"}, "transform": [{"filter": "datum.p === 'M'"}], "mark": {"type": "line", "color": "#e3ea9f", "strokeWidth": 5, "opacity": 0.8}},
                {"data": {"name": "bfit"}, "transform": [{"filter": "datum.p === 'M'"}], "mark": {"type": "line", "color": "#b4c443", "strokeWidth": 1.6}}
              ]
            },
            {
              "width": 90, "height": 218,
              "title": {"text": "Low slope", "anchor": "start", "frame": "group", "fontSize": 10, "offset": 3},
              "encoding": {
                "x": {"field": "t", "type": "quantitative", "scale": {"domain": [-5.25, 0.25], "nice": false, "zero": false},
                  "axis": {"title": null, "values": [-5,-4.5,-4,-3.5,-3,-2.5,-2,-1.5,-1,-0.5,0], "format": "d", "labelExpr": "datum.value % 1 === 0 ? datum.label : ''", "tickOpacity": {"condition": {"test": "datum.value % 1 !== 0", "value": 0}, "value": 1}, "gridWidth": {"condition": {"test": "datum.value % 1 !== 0", "value": 0.5}, "value": 1}, "labelFontSize": 7, "tickSize": 2.5}},
                "y": {"field": "v", "type": "quantitative", "scale": {"type": "log", "domain": [0.39, 140], "nice": false},
                  "axis": {"title": null, "values": [1, 10, 100], "format": "d", "labelFontSize": 7, "tickSize": 2.5}}
              },
              "layer": [
                {"data": {"name": "pts"}, "transform": [{"filter": "datum.p === 'L'"}], "mark": {"type": "circle", "size": 16, "color": "#000000", "opacity": 0.28}},
                {"data": {"name": "bfit"}, "transform": [{"filter": "datum.p === 'L'"}], "mark": {"type": "line", "color": "#cdbfe3", "strokeWidth": 5, "opacity": 0.8}},
                {"data": {"name": "bfit"}, "transform": [{"filter": "datum.p === 'L'"}], "mark": {"type": "line", "color": "#8a6db5", "strokeWidth": 1.6}}
              ]
            }
          ]
        },
        {
          "spacing": 34, "bounds": "flush",
          "hconcat": [
            {
              "width": 1, "height": 147,
              "data": {"values": [{"t": 0}]},
              "mark": {"type": "text", "text": ""},
              "view": {"stroke": null},
              "title": {"text": "c", "anchor": "start", "frame": "group", "fontSize": 15, "offset": 6, "dx": -30}
            },
            {
              "width": 78, "height": 147,
              "title": {"text": "High slope", "anchor": "start", "fontSize": 9.5, "offset": 4},
              "data": {"name": "cinc"}, "transform": [{"filter": "datum.p === 'H'"}],
              "encoding": {
                "x": {"field": "t", "type": "quantitative", "scale": {"domain": [-0.25, 5.25], "nice": false, "zero": false},
                  "axis": {"title": null, "values": [0,0.5,1,1.5,2,2.5,3,3.5,4,4.5,5], "format": "d", "labelExpr": "datum.value % 1 === 0 ? datum.label : ''", "tickOpacity": {"condition": {"test": "datum.value % 1 !== 0", "value": 0}, "value": 1}, "gridWidth": {"condition": {"test": "datum.value % 1 !== 0", "value": 0.5}, "value": 1}, "labelFontSize": 6.5, "tickSize": 2.5}},
                "y": {"field": "v", "type": "quantitative", "scale": {"domain": [-0.05, 1.05], "nice": false, "zero": false},
                  "axis": {"title": "Probability of event", "titleFontSize": 8, "values": [0,0.125,0.25,0.375,0.5,0.625,0.75,0.875,1], "format": ".2f", "labelExpr": "datum.value % 0.25 === 0 ? datum.label : ''", "tickOpacity": {"condition": {"test": "datum.value % 0.25 !== 0", "value": 0}, "value": 1}, "gridWidth": {"condition": {"test": "datum.value % 0.25 !== 0", "value": 0.5}, "value": 1}, "labelFontSize": 6.5, "tickSize": 2.5}}
              },
              "layer": [
                {"mark": {"type": "line", "color": "#f7d2a8", "strokeWidth": 5, "opacity": 0.7}, "encoding": {"detail": {"field": "e", "type": "nominal"}}},
                {"mark": {"type": "line", "color": "#e3802a", "strokeWidth": 1.3},
                  "encoding": {"strokeDash": {"field": "e", "type": "nominal", "scale": {"domain": ["Death", "Diagnosis"], "range": [[1, 0], [4, 2]]},
                    "legend": {"orient": "none", "legendX": 528, "legendY": 458, "direction": "horizontal", "titleOrient": "left", "title": "Event", "symbolType": "stroke", "symbolStrokeWidth": 1.5, "symbolSize": 150, "labelFontSize": 8, "titleFontSize": 8,
                      "encode": {"symbols": {"update": {"stroke": {"value": "#333333"}}}}}}}}
              ]
            },
            {
              "width": 79, "height": 147,
              "title": {"text": "Medium slope", "anchor": "start", "fontSize": 9.5, "offset": 4},
              "data": {"name": "cinc"}, "transform": [{"filter": "datum.p === 'M'"}],
              "encoding": {
                "x": {"field": "t", "type": "quantitative", "scale": {"domain": [-0.25, 5.25], "nice": false, "zero": false},
                  "axis": {"title": "Time in years", "titleFontSize": 8, "titlePadding": 3, "values": [0,0.5,1,1.5,2,2.5,3,3.5,4,4.5,5], "format": "d", "labelExpr": "datum.value % 1 === 0 ? datum.label : ''", "tickOpacity": {"condition": {"test": "datum.value % 1 !== 0", "value": 0}, "value": 1}, "gridWidth": {"condition": {"test": "datum.value % 1 !== 0", "value": 0.5}, "value": 1}, "labelFontSize": 6.5, "tickSize": 2.5}},
                "y": {"field": "v", "type": "quantitative", "scale": {"domain": [-0.05, 1.05], "nice": false, "zero": false},
                  "axis": {"title": null, "values": [0,0.125,0.25,0.375,0.5,0.625,0.75,0.875,1], "format": ".2f", "labelExpr": "datum.value % 0.25 === 0 ? datum.label : ''", "tickOpacity": {"condition": {"test": "datum.value % 0.25 !== 0", "value": 0}, "value": 1}, "gridWidth": {"condition": {"test": "datum.value % 0.25 !== 0", "value": 0.5}, "value": 1}, "labelFontSize": 6.5, "tickSize": 2.5}}
              },
              "layer": [
                {"mark": {"type": "line", "color": "#eef2b8", "strokeWidth": 5, "opacity": 0.8}, "encoding": {"detail": {"field": "e", "type": "nominal"}}},
                {"mark": {"type": "line", "color": "#b4c443", "strokeWidth": 1.3}, "encoding": {"strokeDash": {"field": "e", "type": "nominal"}}}
              ]
            },
            {
              "width": 80, "height": 147,
              "title": {"text": "Low slope", "anchor": "start", "fontSize": 9.5, "offset": 4},
              "data": {"name": "cinc"}, "transform": [{"filter": "datum.p === 'L'"}],
              "encoding": {
                "x": {"field": "t", "type": "quantitative", "scale": {"domain": [-0.25, 5.25], "nice": false, "zero": false},
                  "axis": {"title": null, "values": [0,0.5,1,1.5,2,2.5,3,3.5,4,4.5,5], "format": "d", "labelExpr": "datum.value % 1 === 0 ? datum.label : ''", "tickOpacity": {"condition": {"test": "datum.value % 1 !== 0", "value": 0}, "value": 1}, "gridWidth": {"condition": {"test": "datum.value % 1 !== 0", "value": 0.5}, "value": 1}, "labelFontSize": 6.5, "tickSize": 2.5}},
                "y": {"field": "v", "type": "quantitative", "scale": {"domain": [-0.05, 1.05], "nice": false, "zero": false},
                  "axis": {"title": null, "values": [0,0.125,0.25,0.375,0.5,0.625,0.75,0.875,1], "format": ".2f", "labelExpr": "datum.value % 0.25 === 0 ? datum.label : ''", "tickOpacity": {"condition": {"test": "datum.value % 0.25 !== 0", "value": 0}, "value": 1}, "gridWidth": {"condition": {"test": "datum.value % 0.25 !== 0", "value": 0.5}, "value": 1}, "labelFontSize": 6.5, "tickSize": 2.5}}
              },
              "layer": [
                {"mark": {"type": "line", "color": "#e3d9ef", "strokeWidth": 5, "opacity": 0.8}, "encoding": {"detail": {"field": "e", "type": "nominal"}}},
                {"mark": {"type": "line", "color": "#8a6db5", "strokeWidth": 1.3}, "encoding": {"strokeDash": {"field": "e", "type": "nominal"}}}
              ]
            }
          ]
        }
      ]
    }
  ]
}
